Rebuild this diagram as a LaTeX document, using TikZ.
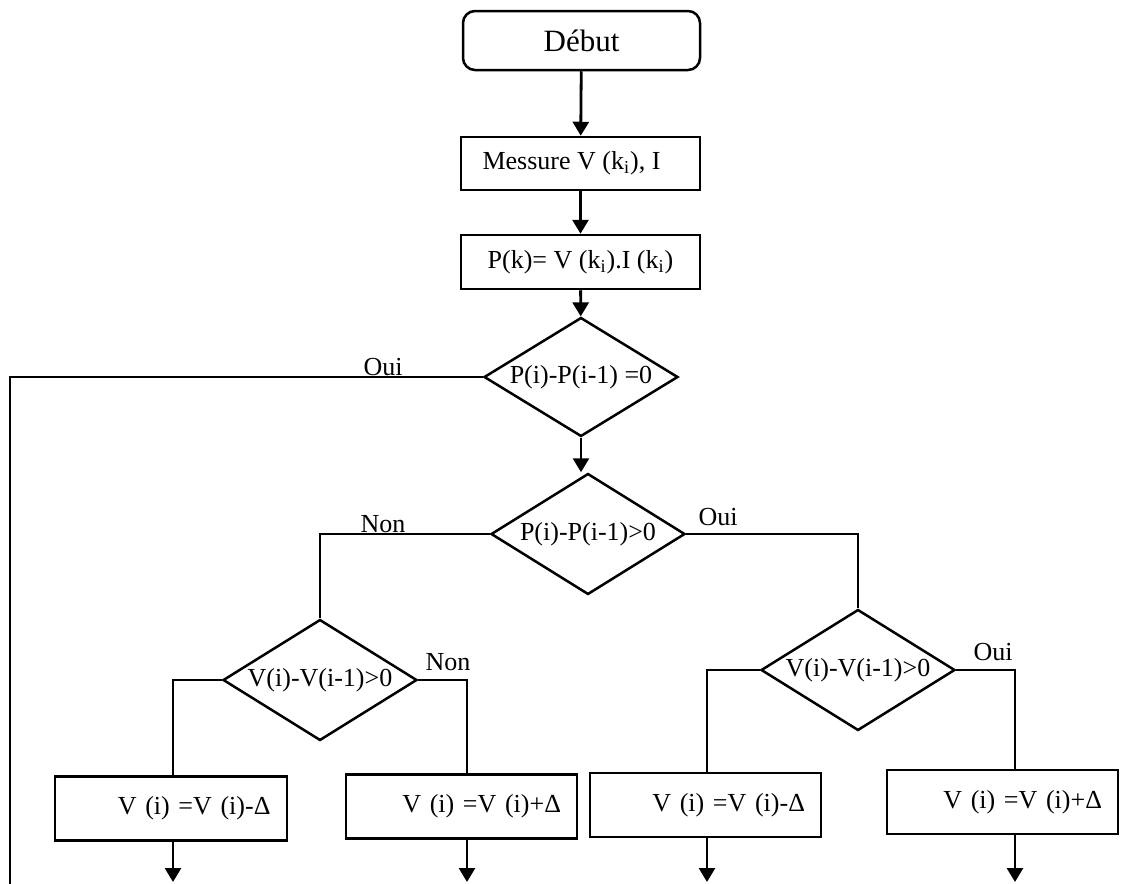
\documentclass[tikz,border=0pt]{standalone}
\usepackage{fontspec}
\setmainfont{Liberation Serif}
\usetikzlibrary{arrows.meta,shapes.geometric}

\begin{document}
\begin{tikzpicture}[
		x=0.5pt, y=-0.5pt,
		every node/.style={font=\fontsize{13}{15}\selectfont},
		boite/.style={draw, line width=1.25pt, inner sep=0pt, align=center},
		bas/.style={boite, minimum width=115.5pt, minimum height=32pt, text width=99.5pt, align=right},
		test/.style={draw, diamond, line width=1.25pt, inner sep=0pt, aspect=1.6,
			minimum width=97pt, minimum height=60.5pt},
		etiq/.style={anchor=south, inner sep=1pt},
		lien/.style={line width=0.8pt},
		fleche/.style={line width=1.4pt, -{Triangle[length=7pt,width=8pt]}}
		]
		
		\useasboundingbox (0,0) rectangle (1121,884);
		
		\node[boite, rounded corners=6pt, minimum width=118.5pt, minimum height=29.5pt,
			font=\fontsize{15.5}{18}\selectfont] (debut) at (581.5,40.5) {Début};
		
		\node[boite, minimum width=119.5pt, minimum height=26.5pt] (mes) at (580.5,163.5)
			{Messure V (k\textsubscript{i}), I\hspace{9pt}};
		
		\node[boite, minimum width=119.5pt, minimum height=27pt] (pk) at (580.5,262)
			{P(k)= V (k\textsubscript{i}).I (k\textsubscript{i})};
		
		\node[test, minimum height=59.5pt] (d1) at (581,377) {P(i)-P(i-1) =0};
		
		\node[test] (d2) at (588,534) {P(i)-P(i-1)>0};
		
		\node[test] (d3) at (320,680) {V(i)-V(i-1)>0};
		
		\node[test] (d4) at (858,670) {V(i)-V(i-1)>0};
		
		\node[bas, minimum width=116pt] (b1) at (171,808.5) {V (i) =V (i)-Δ};
		
		\node[bas] (b2) at (461.5,806.5) {V (i) =V (i)+Δ};
		
		\node[bas] (b3) at (705.5,805) {V (i) =V (i)-Δ};
		
		\node[bas] (b4) at (1002.5,802) {V (i) =V (i)+Δ};
		
		\node[etiq] (oui1) at (383,378) {Oui};
		\node[etiq] (non2) at (383,535) {Non};
		\node[etiq] (oui2) at (718,528) {Oui};
		\node[etiq] (non3) at (448,673) {Non};
		\node[etiq] (oui4) at (993,663) {Oui};
		
		\coordinate (boucle) at (10,884);
		\coordinate (e1) at (173,882);
		\coordinate (e2) at (467,882);
		\coordinate (e3) at (707,882);
		\coordinate (e4) at (1015,882);
		
		\draw[fleche] (debut)--(mes);
		\draw[fleche] (mes)--(pk);
		\draw[fleche] (pk)--(d1);
		\draw[fleche] (d1.south)--(d1.south |- d2.north);
		
		\draw[lien] (d1.west) -| (boucle);
		\draw[lien] (d2.west) -| (d3.north);
		\draw[lien] (d2.east) -| (d4.north);
		\draw[lien] (d3.west) -| (b1.north -| e1);
		\draw[lien] (d3.east) -| (b2.north -| e2);
		\draw[lien] (d4.west) -| (b3.north -| e3);
		\draw[lien] (d4.east) -| (b4.north -| e4);
		
		\foreach \i in {1,...,4}
			\draw[fleche] (b\i.south -| e\i)--(e\i);
		
	\end{tikzpicture}
\end{document}
